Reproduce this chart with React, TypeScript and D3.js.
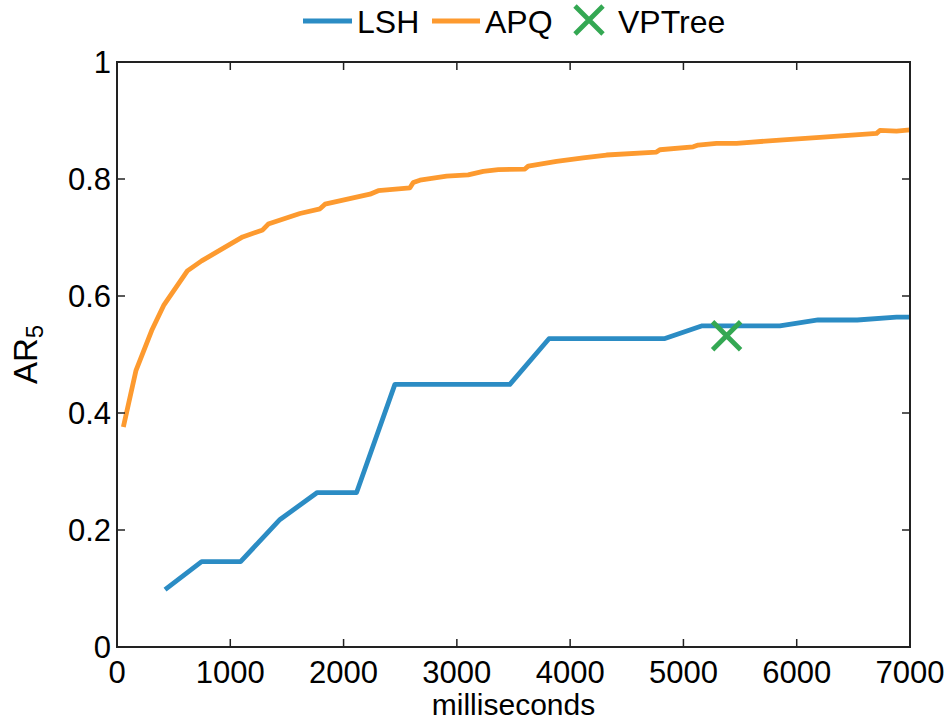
import React from "react";
import * as d3 from "d3";

const lshX = [424, 747, 1091, 1439, 1768, 2115, 2453, 3468, 3813, 4830, 5166, 5851, 6189, 6534, 6881, 7000];
const lshY = [0.098, 0.146, 0.146, 0.218, 0.264, 0.264, 0.449, 0.449, 0.527, 0.527, 0.549, 0.549, 0.559, 0.559, 0.564, 0.564];

const apqX = [56, 168, 306, 415, 621, 747, 879, 1109, 1286, 1335, 1615, 1792, 1836, 2233, 2306, 2586, 2615, 2674, 2910, 3100, 3233, 3366, 3601, 3630, 3880, 4115, 4321, 4762, 4792, 5086, 5130, 5292, 5469, 5881, 6204, 6705, 6734, 6881, 7000];
const apqY = [0.376, 0.473, 0.541, 0.585, 0.643, 0.660, 0.675, 0.701, 0.713, 0.723, 0.741, 0.749, 0.757, 0.774, 0.780, 0.785, 0.794, 0.798, 0.805, 0.807, 0.813, 0.816, 0.817, 0.822, 0.830, 0.836, 0.841, 0.846, 0.850, 0.855, 0.858, 0.861, 0.861, 0.867, 0.871, 0.878, 0.883, 0.882, 0.884];

const vpX = [5381];
const vpY = [0.532];

const xTicks = [0, 1000, 2000, 3000, 4000, 5000, 6000, 7000];
const yTicks = [0, 0.2, 0.4, 0.6, 0.8, 1];
const yTickLabels = ["0", "0.2", "0.4", "0.6", "0.8", "1"];

const BLUE = "#2b8cc4";
const ORANGE = "#fd9a2f";
const GREEN = "#34a853";
const FONT = "'Liberation Sans', Arial, Helvetica, sans-serif";

export default function App() {
  const W = 952, H = 720;
  const left = 117, right = 910, top = 62, bottom = 647;
  const x = d3.scaleLinear().domain([0, 7000]).range([left, right]);
  const y = d3.scaleLinear().domain([0, 1]).range([bottom, top]);
  const line = d3.line<[number, number]>().x(d => x(d[0])).y(d => y(d[1]));
  const lshPts = lshX.map((v, i) => [v, lshY[i]] as [number, number]);
  const apqPts = apqX.map((v, i) => [v, apqY[i]] as [number, number]);
  const tl = 8;
  const fs = 31;
  const cross = (cx: number, cy: number, s: number) =>
    `M${cx - s},${cy - s}L${cx + s},${cy + s}M${cx - s},${cy + s}L${cx + s},${cy - s}`;

  return (
    <svg width={W} height={H} style={{ position: "absolute", left: 0, top: 0, background: "#fff" }} fontFamily={FONT}>
      <rect x={0} y={0} width={W} height={H} fill="#fff" />
      {/* lines */}
      <path d={line(apqPts) || ""} fill="none" stroke={ORANGE} strokeWidth={4.8} strokeLinejoin="round" />
      <path d={line(lshPts) || ""} fill="none" stroke={BLUE} strokeWidth={4.8} strokeLinejoin="round" />
      {vpX.map((v, i) => (
        <path key={i} d={cross(x(v), y(vpY[i]), 14)} stroke={GREEN} strokeWidth={4.8} fill="none" />
      ))}
      {/* box */}
      <rect x={left} y={top} width={right - left} height={bottom - top} fill="none" stroke="#222" strokeWidth={2} />
      {xTicks.map(t => (
        <g key={"x" + t}>
          <line x1={x(t)} x2={x(t)} y1={bottom} y2={bottom - tl} stroke="#222" strokeWidth={1.5} />
          <line x1={x(t)} x2={x(t)} y1={top} y2={top + tl} stroke="#222" strokeWidth={1.5} />
          <text x={x(t)} y={683} textAnchor="middle" fontSize={fs} fill="#000">{t}</text>
        </g>
      ))}
      {yTicks.map((t, i) => (
        <g key={"y" + t}>
          <line x1={left} x2={left + tl} y1={y(t)} y2={y(t)} stroke="#222" strokeWidth={1.5} />
          <line x1={right} x2={right - tl} y1={y(t)} y2={y(t)} stroke="#222" strokeWidth={1.5} />
          <text x={111} y={y(t) + 11} textAnchor="end" fontSize={fs} fill="#000">{yTickLabels[i]}</text>
        </g>
      ))}
      <text x={(left + right) / 2} y={715} textAnchor="middle" fontSize={30} fill="#000">milliseconds</text>
      <text transform={`translate(37,${(top + bottom) / 2}) rotate(-90)`} textAnchor="middle" fontSize={33} fill="#000">
        AR<tspan fontSize={24} dy={6}>5</tspan>
      </text>
      {/* legend */}
      <line x1={303} x2={352} y1={21} y2={21} stroke={BLUE} strokeWidth={4.8} />
      <text x={357} y={33} fontSize={32} fill="#000">LSH</text>
      <line x1={432} x2={480} y1={21} y2={21} stroke={ORANGE} strokeWidth={4.8} />
      <text x={485} y={33} fontSize={32} fill="#000">APQ</text>
      <path d={cross(589, 20, 14)} stroke={GREEN} strokeWidth={4.8} fill="none" />
      <text x={618} y={33} fontSize={32} fill="#000">VPTree</text>
    </svg>
  );
}
